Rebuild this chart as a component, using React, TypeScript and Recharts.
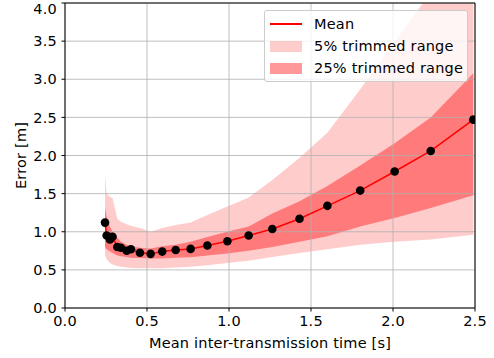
import React from 'react';
import {
  ComposedChart,
  Area,
  Line,
  XAxis,
  YAxis,
  CartesianGrid,
  ReferenceLine,
  Legend,
} from 'recharts';

// mean inter-transmission time [s]
const times = [
  0.244, 0.254, 0.274, 0.29, 0.319, 0.341, 0.376, 0.402, 0.457, 0.522, 0.593, 0.675,
  0.766, 0.868, 0.99, 1.12, 1.264, 1.43, 1.6, 1.8, 2.01, 2.23, 2.49,
];
const meanError = [
  1.12, 0.95, 0.9, 0.935, 0.8, 0.79, 0.75, 0.77, 0.725, 0.71, 0.74, 0.76,
  0.775, 0.82, 0.875, 0.95, 1.036, 1.17, 1.34, 1.54, 1.79, 2.06, 2.47,
];
// 5% trimmed range
const low5 = [
  0.695, 0.64, 0.59, 0.57, 0.55, 0.54, 0.53, 0.525, 0.52, 0.52, 0.52, 0.53,
  0.54, 0.56, 0.59, 0.62, 0.67, 0.72, 0.77, 0.83, 0.87, 0.9, 0.96,
];
const high5 = [
  1.74, 1.5, 1.46, 1.44, 1.17, 1.13, 1.1, 1.08, 1.05, 1.0, 1.05, 1.09,
  1.12, 1.22, 1.33, 1.45, 1.68, 1.97, 2.3, 2.87, 3.49, 4.14, 4.95,
];
// 25% trimmed range
const low25 = [
  0.8, 0.77, 0.74, 0.72, 0.69, 0.68, 0.67, 0.66, 0.655, 0.65, 0.65, 0.66,
  0.665, 0.69, 0.715, 0.75, 0.8, 0.87, 0.94, 1.07, 1.18, 1.31, 1.48,
];
const high25 = [
  1.31, 1.2, 1.07, 1.0, 0.92, 0.87, 0.83, 0.81, 0.79, 0.78, 0.81, 0.83,
  0.87, 0.93, 1.0, 1.07, 1.24, 1.4, 1.6, 1.87, 2.16, 2.5, 3.08,
];

const xTicks = [0, 0.5, 1.0, 1.5, 2.0, 2.5];
const yTicks = [0, 0.5, 1.0, 1.5, 2.0, 2.5, 3.0, 3.5, 4.0];

const data = times.map((t, i) => ({
  t,
  mean: meanError[i],
  r5: [low5[i], high5[i]],
  r25: [low25[i], high25[i]],
}));

const FONT = 'DejaVu Sans';
const textStyle = { fill: '#000', fontSize: 14.5, fontFamily: FONT, letterSpacing: 0.2 };

function LegendBox() {
  const row: React.CSSProperties = {
    display: 'flex',
    alignItems: 'center',
    height: 22,
  };
  const text: React.CSSProperties = {
    marginLeft: 12,
    fontSize: 14.5,
    letterSpacing: 0.2,
    color: '#000',
    whiteSpace: 'nowrap',
  };
  return (
    <div
      style={{
        width: 194,
        padding: '2px 3px 2px 5px',
        background: 'rgba(255,255,255,0.8)',
        border: '1px solid #cccccc',
        borderRadius: 3,
        fontFamily: FONT,
      }}
    >
      <div style={row}>
        <div style={{ width: 32, height: 1.5, background: '#ff0000' }} />
        <span style={text}>Mean</span>
      </div>
      <div style={row}>
        <div style={{ width: 32, height: 11, background: 'rgba(255,0,0,0.2)' }} />
        <span style={text}>5% trimmed range</span>
      </div>
      <div style={row}>
        <div style={{ width: 32, height: 11, background: 'rgba(255,0,0,0.4)' }} />
        <span style={text}>25% trimmed range</span>
      </div>
    </div>
  );
}

export default function App() {
  return (
    <div style={{ position: 'absolute', left: 0, top: 0, fontFamily: FONT }}>
      <ComposedChart
        width={494}
        height={358}
        data={data}
        margin={{ top: 3, right: 19, left: 0, bottom: 0 }}
      >
        <XAxis
          type="number"
          dataKey="t"
          domain={[0, 2.5]}
          ticks={xTicks}
          allowDataOverflow
          tickFormatter={(v: number) => v.toFixed(1)}
          tick={textStyle}
          tickSize={3.5}
          tickMargin={4}
          height={50}
          stroke="#000"
          label={{
            value: 'Mean inter-transmission time [s]',
            position: 'insideBottom',
            offset: 10,
            style: textStyle,
          }}
        />
        <YAxis
          type="number"
          domain={[0, 4]}
          ticks={yTicks}
          allowDataOverflow
          tickFormatter={(v: number) => v.toFixed(1)}
          tick={textStyle}
          tickSize={3.5}
          tickMargin={4.5}
          width={65}
          stroke="#000"
          label={{
            value: 'Error [m]',
            angle: -90,
            position: 'insideLeft',
            offset: 21,
            style: { ...textStyle, textAnchor: 'middle' },
          }}
        />
        <Area
          dataKey="r5"
          type="linear"
          stroke="none"
          fill="#ff0000"
          fillOpacity={0.2}
          isAnimationActive={false}
          legendType="none"
        />
        <Area
          dataKey="r25"
          type="linear"
          stroke="none"
          fill="#ff0000"
          fillOpacity={0.4}
          isAnimationActive={false}
          legendType="none"
        />
        <CartesianGrid stroke="#b0b0b0" strokeWidth={0.8} zIndex={150} />
        <ReferenceLine x={2.5} stroke="#000" strokeWidth={1} />
        <ReferenceLine y={4} stroke="#000" strokeWidth={1} />
        <Line
          dataKey="mean"
          type="linear"
          stroke="#ff0000"
          strokeWidth={1.5}
          dot={{ r: 4.3, fill: '#000', stroke: '#000', strokeWidth: 0 }}
          isAnimationActive={false}
        />
        <Legend
          layout="horizontal"
          verticalAlign="middle"
          align="center"
          content={() => <LegendBox />}
          wrapperStyle={{ left: 264, top: 10, width: 'auto', height: 'auto' }}
        />
      </ComposedChart>
    </div>
  );
}
